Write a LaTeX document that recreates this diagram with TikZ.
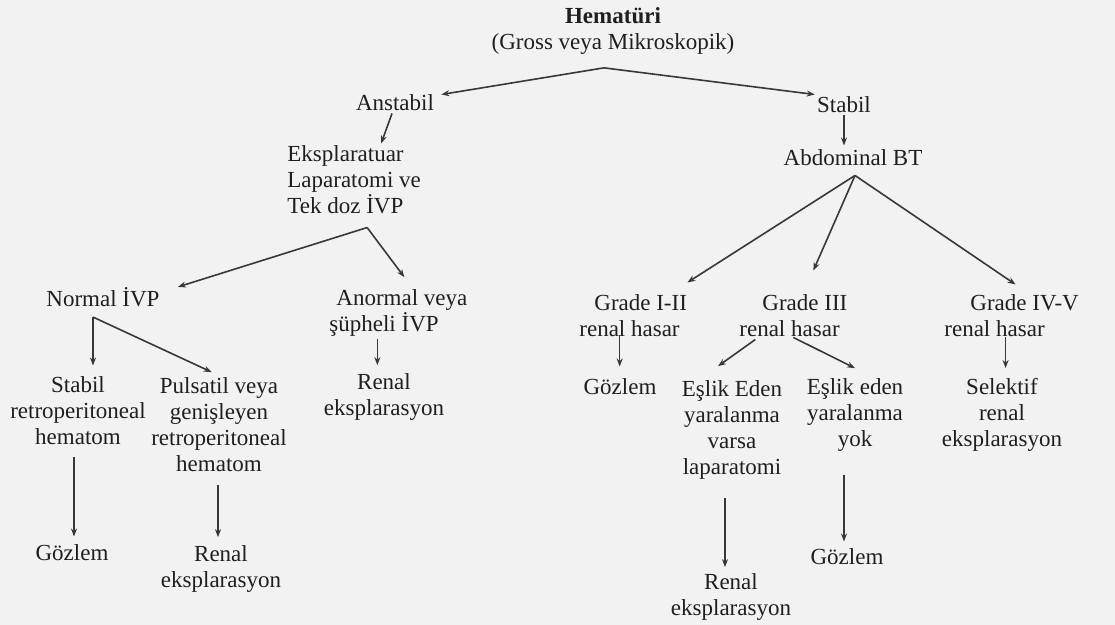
\documentclass[tikz,border=0pt]{standalone}
\usepackage{fontspec}
\setmainfont{Liberation Serif}
\usetikzlibrary{arrows.meta,calc}
\begin{document}
\begin{tikzpicture}[x=0.5pt,y=-0.5pt,
  txt/.style={inner sep=1pt, font=\fontsize{11.5}{13}\selectfont, text=black!88},
  arr/.style={draw=black!78, line width=0.8pt, -{Stealth[length=4pt,width=3pt]}},
  ln/.style={draw=black!78, line width=0.8pt}]
\fill[black!5] (0,0) rectangle (1115,625);
\useasboundingbox (0,0) rectangle (1115,625);
% nodes
\node[txt,align=center] (hem) at (613,31) {\textbf{Hematüri}\\(Gross veya Mikroskopik)};
\node[txt] (anst) at (395,103) {Anstabil};
\node[txt] (stab) at (844,105) {Stabil};
\node[txt,align=left,anchor=west] (eksp) at (285,180) {Eksplaratuar\\Laparatomi ve\\Tek doz İVP};
\node[txt] (abd) at (853,158) {Abdominal BT};
\node[txt] (norm) at (103,297) {Normal İVP};
\node[txt,align=left,anchor=west] (anor) at (327,313) {\hspace*{3.5pt}Anormal veya\\şüpheli İVP};
\node[txt,align=center] (ren1) at (384,397) {Renal\\eksplarasyon};
\node[txt,align=center] (sret) at (78,411) {Stabil\\retroperitoneal\\hematom};
\node[txt,align=center] (puls) at (219,425) {Pulsatil veya\\genişleyen\\retroperitoneal\\hematom};
\node[txt] (goz1) at (72,553) {Gözlem};
\node[txt,align=center] (ren2) at (221,569) {Renal\\eksplarasyon};
\node[txt,align=left,anchor=west] (g12) at (577,316) {\hspace*{7.5pt}Grade I-II\\renal hasar};
\node[txt,align=left,anchor=west] (g3) at (737,316) {\hspace*{11.5pt}Grade III\\renal hasar};
\node[txt,align=left,anchor=west] (g45) at (942,316) {\hspace*{13pt}Grade IV-V\\renal hasar};
\node[txt] (goz2) at (620,387) {Gözlem};
\node[txt,align=center] (esl1) at (732,430) {Eşlik Eden\\yaralanma\\varsa\\laparatomi};
\node[txt,align=center] (esl2) at (855,415) {Eşlik eden\\yaralanma\\yok};
\node[txt,align=center] (sel) at (1002,415) {Selektif\\renal\\eksplarasyon};
\node[txt,align=center] (ren3) at (731,597) {Renal\\eksplarasyon};
\node[txt] (goz3) at (847,557) {Gözlem};
% junctions
\coordinate (t0) at ([xshift=-4.5pt,yshift=-5.5pt]hem.south);
\coordinate (c1) at ([xshift=6.5pt,yshift=-5.5pt]eksp.south);
\coordinate (c2) at ([xshift=-5pt,yshift=-4pt]norm.south);
\coordinate (c3) at ([xshift=1pt,yshift=-3.5pt]abd.south);
\coordinate (a1) at ([xshift=-1.5pt]anst.south);
\coordinate (a3) at ([xshift=-10.5pt]anor.south);
\coordinate (a4) at ([xshift=-2pt,yshift=-5pt]sret.south);
\coordinate (a5) at ([xshift=-0.5pt,yshift=-5.5pt]puls.south);
\coordinate (a6) at ([xshift=-6.75pt,yshift=2pt]g12.south);
\coordinate (a7) at ([xshift=-3pt,yshift=1pt]g45.south);
\coordinate (a8) at ([xshift=-3.5pt,yshift=-8pt]esl1.south);
\coordinate (a9) at ([xshift=-5.5pt,yshift=-10.5pt]esl2.south);
% connectors
\draw[arr] (t0) -- ([xshift=2.5pt,yshift=-1pt]anst.north east);
\draw[arr] (t0) -- (stab.north west);
\draw[arr] (a1) -- ([xshift=13.5pt]eksp.north);
\draw[arr, shorten >=1pt] (stab.south) -- (stab.south |- abd.north);
\draw[arr] (c1) -- ([xshift=8pt,yshift=-1pt]norm.north east);
\draw[arr] (c1) -- ([xshift=3pt,yshift=5pt]anor.north);
\draw[arr, shorten >=4.5pt] (c2) -- (c2 |- sret.north);
\draw[arr, shorten >=4pt] (c2) -- (puls.north);
\draw[arr, shorten >=3pt] (a3) -- (a3 |- ren1.north);
\draw[arr, shorten >=3pt] (a4) -- (a4 |- goz1.north);
\draw[arr, shorten >=3pt] (a5) -- (a5 |- ren2.north);
\draw[arr] (c3) -- ([xshift=-1pt,yshift=5pt]g12.north east);
\draw[arr] (c3) -- ([xshift=10pt,yshift=11pt]g3.north);
\draw[arr] (c3) -- ([xshift=2pt,yshift=4pt]g45.north);
\draw[arr, shorten >=5pt] (a6) -- (a6 |- goz2.north);
\draw[arr] ([xshift=-19pt]g3.south) -- ([xshift=-7pt,yshift=6pt]esl1.north);
\draw[arr] ([yshift=1pt]g3.south) -- ([yshift=4pt]esl2.north);
\draw[arr, shorten >=4pt] (a7) -- (a7 |- sel.north);
\draw[arr, shorten >=2pt] (a8) -- (a8 |- ren3.north);
\draw[arr, shorten >=2.5pt] (a9) -- (a9 |- goz3.north);
\end{tikzpicture}
\end{document}
